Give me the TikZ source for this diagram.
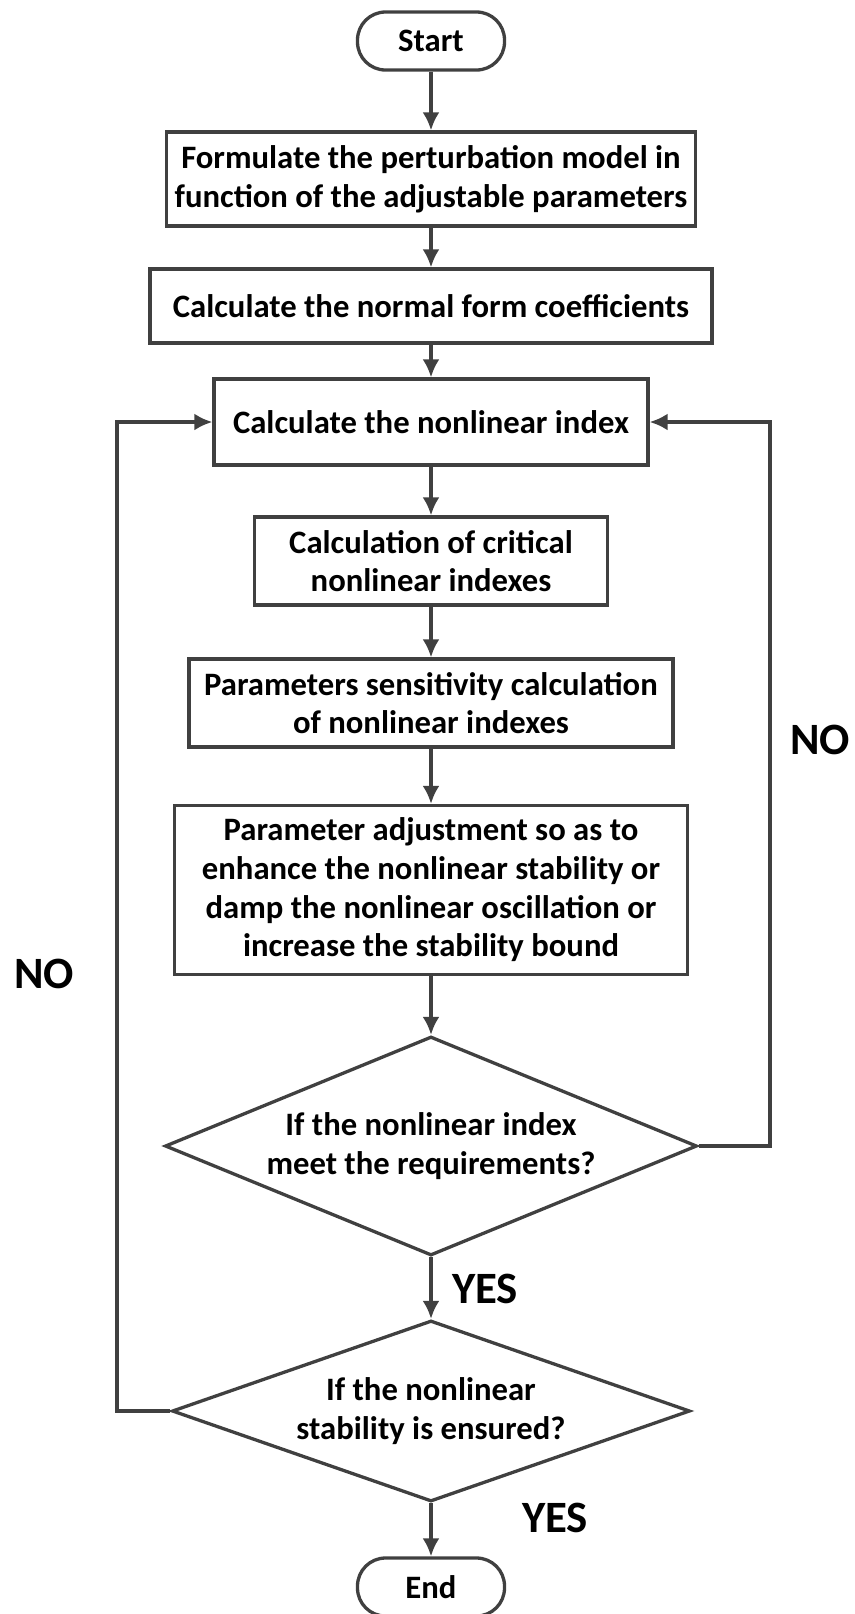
\documentclass[tikz,border=0pt]{standalone}
\usepackage{fontspec}
\setmainfont{Carlito}
\usetikzlibrary{shapes.geometric,arrows.meta,positioning}
\definecolor{linegray}{RGB}{64,64,64}
\def\pxu{0.02cm}	% one pixel of the original figure
\def\midX{431}		% common axis of the flow
\def\boxfont{\fontsize{18.6}{22}\selectfont\bfseries}
\tikzset{ >={Latex[length=0.36cm,width=0.34cm]} }
\tikzset{
	flowline/.style={draw=linegray, line width=0.066cm},
	terminal/.style={flowline, rectangle, rounded corners=0.56cm, minimum width=147*\pxu, minimum height=58*\pxu, font=\boxfont},
	process/.style={flowline, rectangle, align=center, inner sep=0pt, font=\boxfont},
	decision/.style={flowline, diamond, shape aspect=2.4, inner sep=0pt, align=center, font=\boxfont},
	answer/.style={font=\fontsize{25.5}{30}\selectfont\bfseries},
	connect/.style={flowline, ->}
}
\begin{document}
\begin{tikzpicture}[x=\pxu, y=-\pxu]
	\useasboundingbox (0,0) rectangle (855,1614);		% page of the original
	% Steps of the flow
	\node[terminal] (start) at (\midX,41) {Start};
	\node[process, minimum width=529*\pxu, minimum height=94*\pxu] (formulate) at (\midX,179)
		{Formulate the perturbation model in\\function of the adjustable parameters};
	\node[process, minimum width=562*\pxu, minimum height=74*\pxu] (coeffs) at (\midX,306)
		{Calculate the normal form coefficients};
	\node[process, minimum width=434*\pxu, minimum height=86*\pxu] (index) at (\midX,422)
		{Calculate the nonlinear index};
	\node[process, minimum width=353*\pxu, minimum height=88*\pxu] (critical) at (\midX,561)
		{Calculation of critical\\nonlinear indexes};
	\node[process, minimum width=484*\pxu, minimum height=88*\pxu] (sensitivity) at (\midX,703)
		{Parameters sensitivity calculation\\of nonlinear indexes};
	\node[process, minimum width=513*\pxu, minimum height=169*\pxu] (adjust) at (\midX,890)
		{Parameter adjustment so as to\\enhance the nonlinear stability or\\damp the nonlinear oscillation or\\increase the stability bound};
	\node[decision, minimum width=532*\pxu, minimum height=219*\pxu] (meet) at (\midX,1146)
		{If the nonlinear index\\meet the requirements?};
	\node[decision, minimum width=518*\pxu, minimum height=181*\pxu] (stable) at (\midX,1411)
		{If the nonlinear\\stability is ensured?};
	\node[terminal] (end) at (\midX,1587) {End};
	% Corners of the two loops
	\coordinate (leftLoop)  at (117,422);			% back from the stability test
	\coordinate (rightLoop) at (770,422);			% back from the index test
	% Main line
	\draw[connect] (start) -- (formulate);
	\draw[connect] (formulate) -- (coeffs);
	\draw[connect] (coeffs) -- (index);
	\draw[connect] (index) -- (critical);
	\draw[connect] (critical) -- (sensitivity);
	\draw[connect] (sensitivity) -- (adjust);
	\draw[connect] (adjust) -- (meet);
	\draw[connect] (meet) -- (stable);
	\draw[connect] (stable) -- (end);
	% Loops back to the index
	\draw[connect] (meet.east) -| (rightLoop) -- (index.east);
	\draw[connect] (stable.west) -| (leftLoop) -- (index.west);
	% Answers
	\node[answer] (noRight) at (820,740)  {NO};
	\node[answer] (noLeft)  at (44,974)   {NO};
	\node[answer] (yesMeet) at (485,1289) {YES};
	\node[answer] (yesEnd)  at (555,1518) {YES};
\end{tikzpicture}
\end{document}
